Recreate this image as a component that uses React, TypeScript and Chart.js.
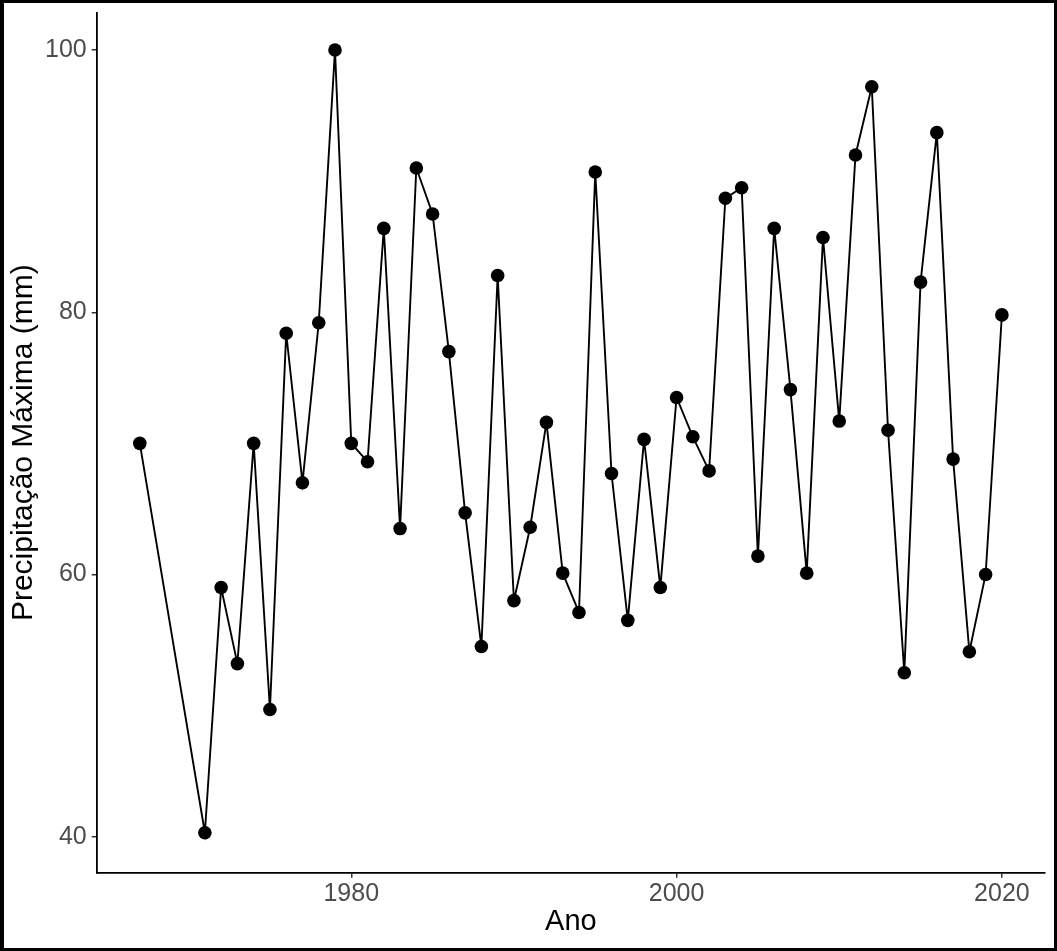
import React, { useEffect, useRef } from "react";
import { Chart, registerables } from "chart.js";

Chart.register(...registerables);

const years = [
  1967, 1971, 1972, 1973, 1974, 1975, 1976, 1977, 1978, 1979, 1980, 1981, 1982,
  1983, 1984, 1985, 1986, 1987, 1988, 1989, 1990, 1991, 1992, 1993, 1994, 1995,
  1996, 1997, 1998, 1999, 2000, 2001, 2002, 2003, 2004, 2005, 2006, 2007, 2008,
  2009, 2010, 2011, 2012, 2013, 2014, 2015, 2016, 2017, 2018, 2019, 2020,
];
const precipitacao = [
  70.0, 40.3, 59.0, 53.2, 70.0, 49.7, 78.4, 67.0, 79.2, 100.0, 70.0, 68.6, 86.4,
  63.5, 91.0, 87.5, 77.0, 64.7, 54.5, 82.8, 58.0, 63.6, 71.6, 60.1, 57.1, 90.7,
  67.7, 56.5, 70.3, 59.0, 73.5, 70.5, 67.9, 88.7, 89.5, 61.4, 86.4, 74.1, 60.1,
  85.7, 71.7, 92.0, 97.2, 71.0, 52.5, 82.3, 93.7, 68.8, 54.1, 60.0, 79.8,
];
const xTicks = [1980, 2000, 2020];
const yTicks = [40, 60, 80, 100];
const xTitle = "Ano";
const yTitle = "Precipitação Máxima (mm)";

const FONT = "'Liberation Sans', Arial, Helvetica, sans-serif";

const zeroPad = (s: any) => {
  s.paddingTop = 0;
  s.paddingBottom = 0;
  s.paddingLeft = 0;
  s.paddingRight = 0;
};

export default function App() {
  const ref = useRef<HTMLCanvasElement>(null);

  useEffect(() => {
    if (!ref.current) return;
    const chart = new Chart(ref.current, {
      type: "line",
      data: {
        datasets: [
          {
            data: years.map((x, i) => ({ x, y: precipitacao[i] })),
            borderColor: "#000000",
            borderWidth: 1.9,
            pointRadius: 6.8,
            pointBackgroundColor: "#000000",
            pointBorderWidth: 0,
            pointHoverRadius: 6.8,
            tension: 0,
            clip: false as any,
          },
        ],
      },
      options: {
        responsive: false,
        animation: false,
        events: [],
        layout: {
          padding: { left: 0, right: 9, top: 9.7, bottom: 0 },
          autoPadding: false,
        },
        plugins: {
          legend: { display: false },
          tooltip: { enabled: false },
        },
        scales: {
          x: {
            type: "linear",
            min: 1964.35,
            max: 2022.65,
            afterBuildTicks: (s: any) => {
              s.ticks = xTicks.map((v) => ({ value: v }));
            },
            afterFit: (s: any) => {
              s.height = 75.3;
              zeroPad(s);
            },
            grid: {
              drawOnChartArea: false,
              drawTicks: true,
              tickLength: 5,
              color: "#333333",
              lineWidth: 1.5,
            },
            border: { display: true, color: "#000000", width: 1.8 },
            ticks: {
              font: { family: FONT, size: 25 },
              color: "#4d4d4d",
              padding: 1.3,
              maxRotation: 0,
              autoSkip: false,
              callback: (v: any) => String(v),
            },
            title: {
              display: true,
              text: xTitle,
              color: "#000000",
              font: { family: FONT, size: 29 },
              padding: { top: 0, bottom: 8.3 },
            },
          },
          y: {
            type: "linear",
            min: 37.25,
            max: 102.85,
            afterBuildTicks: (s: any) => {
              s.ticks = yTicks.map((v) => ({ value: v }));
            },
            afterFit: (s: any) => {
              s.width = 92.7;
              zeroPad(s);
            },
            grid: {
              drawOnChartArea: false,
              drawTicks: true,
              tickLength: 5,
              color: "#333333",
              lineWidth: 1.5,
            },
            border: { display: true, color: "#000000", width: 1.8 },
            ticks: {
              font: { family: FONT, size: 25 },
              color: "#4d4d4d",
              padding: 5,
              autoSkip: false,
              callback: (v: any) => String(v),
            },
            title: {
              display: true,
              text: yTitle,
              color: "#000000",
              font: { family: FONT, size: 30 },
              padding: { top: 2, bottom: 0 },
            },
          },
        },
      },
    });
    return () => chart.destroy();
  }, []);

  return (
    <div
      style={{
        position: "absolute",
        left: 0,
        top: 0,
        width: 1057,
        height: 951,
        boxSizing: "border-box",
        borderStyle: "solid",
        borderColor: "#000000",
        borderWidth: "3px 3px 3px 4px",
        background: "#ffffff",
        overflow: "hidden",
      }}
    >
      <canvas ref={ref} width={1050} height={945} style={{ display: "block", width: 1050, height: 945 }} />
    </div>
  );
}
